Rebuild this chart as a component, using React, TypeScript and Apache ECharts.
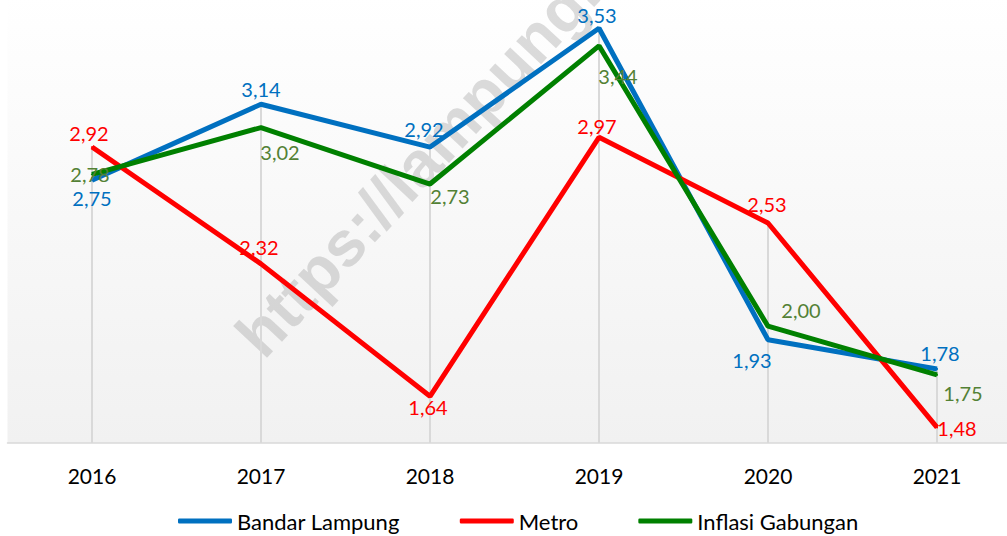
import React, { useEffect, useRef } from "react";
import * as echarts from "echarts";

const categories = ["2016", "2017", "2018", "2019", "2020", "2021"];
const bandarLampung = [2.75, 3.14, 2.92, 3.53, 1.93, 1.78];
const metro = [2.92, 2.32, 1.64, 2.97, 2.53, 1.48];
const gabungan = [2.78, 3.02, 2.73, 3.44, 2.0, 1.75];

const blueOffsets = [[0, 18], [0, -15], [-6, -18], [-2, -13], [-16, 20], [3, -16]];
const redOffsets = [[-3, -14], [-2, -17], [-2, 11], [-2, -11], [-1, -19], [20, 1]];
const greenOffsets = [[-2, 0], [19, 24], [20, 12], [19, 30], [33, -16], [26, 18]];

const FONT = "Lato";

const fmt = (p: any) => Number(p.value).toFixed(2).replace(".", ",");

function build(values: number[], offsets: number[][]) {
  return values.map((v, i) => ({
    value: v,
    label: { offset: offsets[i] },
  }));
}

export default function App() {
  const ref = useRef<HTMLDivElement>(null);
  useEffect(() => {
    if (!ref.current) return;
    const chart = echarts.init(ref.current, null, { renderer: "svg" });
    const maxVals = categories.map((_, i) => Math.max(bandarLampung[i], metro[i], gabungan[i]));
    const yMin = 1.4;
    const yMax = 3.7;
    const pxPerUnit = 194.7;
    const axisY = 443;
    const gridH = (yMax - yMin) * pxPerUnit;
    const lineSeries = (name: string, data: number[], offsets: number[][], lineColor: string, labelColor: string) => ({
      name,
      type: "line",
      data: build(data, offsets),
      symbol: "circle",
      symbolSize: 2,
      itemStyle: { color: lineColor },
      lineStyle: { color: lineColor, width: 5 },
      z: 3,
      label: {
        show: true,
        position: "inside",
        formatter: fmt,
        color: labelColor,
        fontFamily: FONT,
        fontSize: 20,
        align: "center",
        verticalAlign: "middle",
      },
      emphasis: { disabled: true },
    });
    chart.setOption({
      animation: false,
      backgroundColor: "#ffffff",
      textStyle: { fontFamily: FONT },
      grid: {
        left: 7.5,
        width: 1014,
        top: axisY - gridH,
        height: gridH,
        outerBoundsMode: "none",
        containLabel: false,
        show: true,
        borderWidth: 0,
        backgroundColor: new echarts.graphic.LinearGradient(0, 0, 0, 1, [
          { offset: 0, color: "#ffffff" },
          { offset: 1, color: "#f1f1f1" },
        ]),
      },
      legend: {
        data: ["Bandar Lampung", "Metro", "Inflasi Gabungan"],
        left: 178,
        top: 507,
        padding: 0,
        icon: "roundRect",
        itemWidth: 54,
        itemHeight: 5,
        itemGap: 60,
        textStyle: { fontFamily: FONT, fontSize: 22, color: "#000", lineHeight: 28 },
      },
      xAxis: {
        type: "category",
        data: categories,
        boundaryGap: true,
        axisLine: { lineStyle: { color: "#d9d9d9", width: 1.5 } },
        axisTick: { show: false },
        axisLabel: { fontFamily: FONT, fontSize: 21, color: "#000", margin: 22 },
        splitLine: { show: false },
      },
      yAxis: {
        type: "value",
        min: yMin,
        max: yMax,
        show: false,
        splitLine: { show: false },
      },
      graphic: [
        {
          type: "text",
          x: 248,
          y: 346,
          rotation: 0.82,
          z: 1,
          style: {
            text: "https://lampung.bps.go.id",
            font: "bold 64px 'Liberation Sans'",
            fill: "rgba(150,150,150,0.33)",
            textVerticalAlign: "middle",
          },
        },
      ],
      series: [
        {
          name: "drop",
          type: "bar",
          data: maxVals,
          barWidth: 2,
          itemStyle: { color: "#d9d9d9" },
          z: 1,
          silent: true,
        },
        lineSeries("Bandar Lampung", bandarLampung, blueOffsets, "#0070C0", "#0070C0"),
        lineSeries("Metro", metro, redOffsets, "#FF0000", "#FF0000"),
        lineSeries("Inflasi Gabungan", gabungan, greenOffsets, "#008000", "#538135"),
      ],
    });
    return () => chart.dispose();
  }, []);
  return (
    <div
      ref={ref}
      style={{ position: "fixed", left: 0, top: 0, width: 1007, height: 536 }}
    />
  );
}
